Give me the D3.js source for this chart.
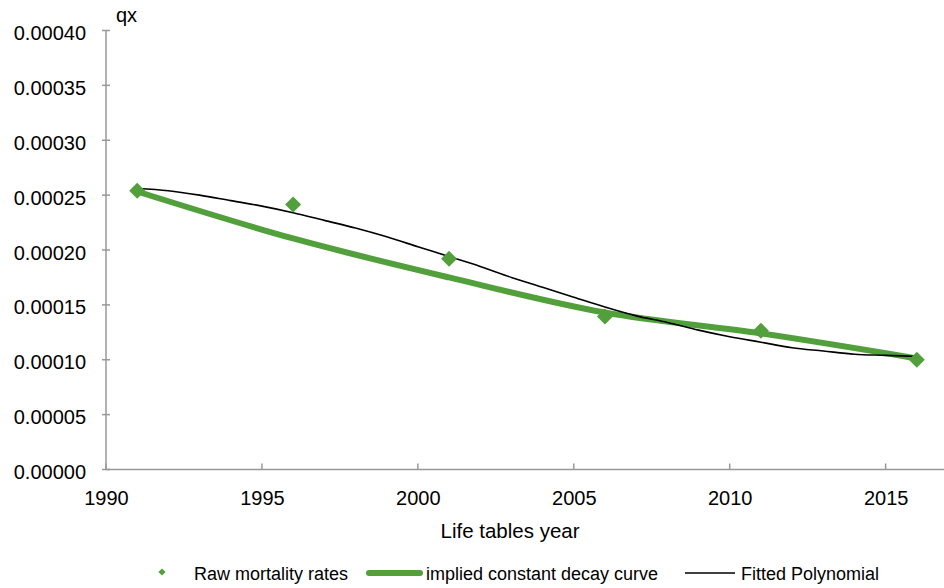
<!DOCTYPE html>
<html><head><meta charset="utf-8">
<script src="https://cdn.jsdelivr.net/npm/d3@7"></script>
<style>body{margin:0;background:#fff}svg{display:block}text{font-family:"Liberation Sans",Arial,sans-serif;fill:#000}</style>
</head><body>
<svg id="c" width="944" height="588"></svg>
<script>
const rawYears = [1991, 1996, 2001, 2006, 2011, 2016];
const rawRates = [0.000254, 0.0002415, 0.000192, 0.0001395, 0.0001265, 0.0001];
const decayYears = [1991, 1996, 2001, 2006, 2011, 2016];
const decayRates = [0.0002533, 0.0002105, 0.000175, 0.000143, 0.000124, 0.0001012];
const polyYears = [1991,1992,1993,1994,1995,1996,1997,1998,1999,2000,2001,2002,2003,2004,2005,2006,2007,2008,2009,2010,2011,2012,2013,2014,2015,2016];
const polyRates = [0.000256,0.000254,0.000250,0.000245,0.000240,0.000234,0.000227,0.000220,0.000212,0.000203,0.000194,0.000185,0.000175,0.000166,0.000157,0.000148,0.000140,0.000134,0.000127,0.000121,0.000116,0.000111,0.000108,0.000105,0.000104,0.000103];
const xTicks = [1990, 1995, 2000, 2005, 2010, 2015];
const yTicks = [0, 0.00005, 0.0001, 0.00015, 0.0002, 0.00025, 0.0003, 0.00035, 0.0004];
const seriesNames = ["Raw mortality rates", "implied constant decay curve", "Fitted Polynomial"];

const green = "#52A03C", axisCol = "#999";
const svg = d3.select("#c");
const x = d3.scaleLinear().domain([1990, 2017]).range([106, 948]);
const y = d3.scaleLinear().domain([0, 0.0004]).range([469.5, 30.5]);

// y axis
const yAxis = svg.append("g").attr("transform", `translate(${x(1990)},0)`)
  .call(d3.axisLeft(y).tickValues(yTicks).tickSize(0).tickPadding(20).tickFormat(d3.format(".5f")));
yAxis.select(".domain").remove();
yAxis.selectAll("text").style("font-size", "20px").attr("font-family", null).attr("dy", "0.45em");
svg.append("g").selectAll("line").data(yTicks).join("line")
  .attr("x1", x(1990) - 4).attr("x2", x(1990) + 4)
  .attr("y1", d => y(d)).attr("y2", d => y(d)).attr("stroke", axisCol).attr("stroke-width", 1.5);
svg.append("line").attr("x1", x(1990)).attr("x2", x(1990)).attr("y1", y(0.0004)).attr("y2", y(0))
  .attr("stroke", axisCol).attr("stroke-width", 1.5);

// x axis
const xAxis = svg.append("g").attr("transform", `translate(0,${y(0)})`)
  .call(d3.axisBottom(x).tickValues(xTicks).tickSize(0).tickPadding(21).tickFormat(d3.format("d")));
xAxis.select(".domain").remove();
xAxis.selectAll("text").style("font-size", "20px").attr("font-family", null);
svg.append("g").selectAll("line").data(xTicks).join("line")
  .attr("x1", d => x(d)).attr("x2", d => x(d)).attr("y1", y(0) - 6).attr("y2", y(0))
  .attr("stroke", axisCol).attr("stroke-width", 1.5);
svg.append("line").attr("x1", x(1990)).attr("x2", 944).attr("y1", y(0)).attr("y2", y(0))
  .attr("stroke", axisCol).attr("stroke-width", 1.5);

svg.append("text").attr("x", 116).attr("y", 22).style("font-size", "20px").text("qx");
svg.append("text").attr("x", 510).attr("y", 538).attr("text-anchor", "middle").style("font-size", "20.5px").text("Life tables year");

// decay curve
svg.append("path").datum(decayYears.map((d, i) => [d, decayRates[i]]))
  .attr("d", d3.line().x(d => x(d[0])).y(d => y(d[1])).curve(d3.curveMonotoneX))
  .attr("fill", "none").attr("stroke", green).attr("stroke-width", 6);
// polynomial
svg.append("path").datum(polyYears.map((d, i) => [d, polyRates[i]]))
  .attr("d", d3.line().x(d => x(d[0])).y(d => y(d[1])).curve(d3.curveMonotoneX))
  .attr("fill", "none").attr("stroke", "#000").attr("stroke-width", 1.6);
// raw points
const dia = d3.symbol().type(d3.symbolSquare).size(128);
svg.append("g").selectAll("path").data(rawYears.map((d, i) => [d, rawRates[i]])).join("path")
  .attr("d", dia).attr("transform", d => `translate(${x(d[0])},${y(d[1])}) rotate(45)`)
  .attr("fill", green);

// legend
const ly = 573;
const lg = svg.append("g");
lg.append("path").attr("d", d3.symbol().type(d3.symbolSquare).size(26)).attr("transform", `translate(162,${ly - 1}) rotate(45)`).attr("fill", green);
lg.append("text").attr("x", 194).attr("y", ly + 7).style("font-size", "18px").text(seriesNames[0]);
lg.append("line").attr("x1", 369).attr("x2", 420).attr("y1", ly).attr("y2", ly).attr("stroke", green).attr("stroke-width", 6).attr("stroke-linecap", "round");
lg.append("text").attr("x", 426).attr("y", ly + 7).style("font-size", "18px").text(seriesNames[1]);
lg.append("line").attr("x1", 685).attr("x2", 735).attr("y1", ly).attr("y2", ly).attr("stroke", "#000").attr("stroke-width", 1.6);
lg.append("text").attr("x", 741).attr("y", ly + 7).style("font-size", "18px").text(seriesNames[2]);
</script>
</body></html>
